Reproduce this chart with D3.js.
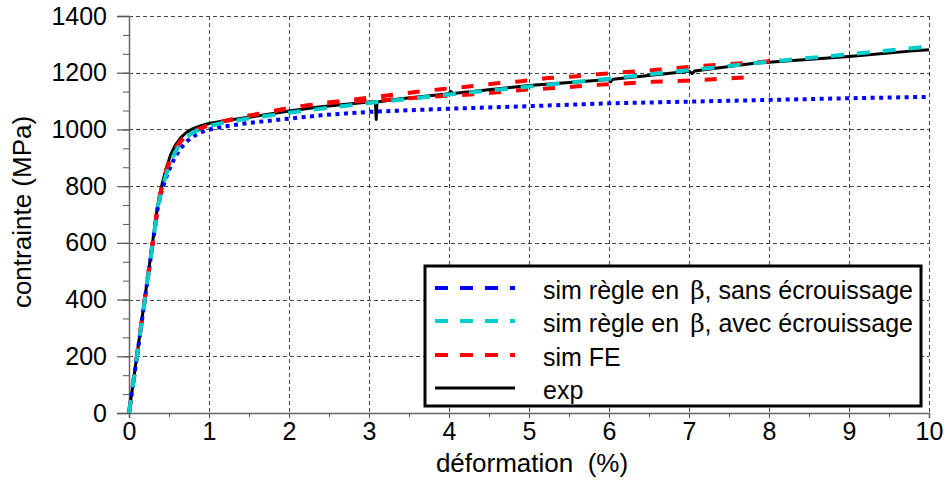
<!DOCTYPE html>
<html><head><meta charset="utf-8">
<script src="https://cdn.jsdelivr.net/npm/d3@7"></script>
<style>body{margin:0;background:#fff}svg{display:block}text{font-family:"Liberation Sans",Arial,sans-serif;fill:#000}</style>
</head><body>
<script>
// ---- data ----
const xTicks = [0,1,2,3,4,5,6,7,8,9,10];
const yTicks = [0,200,400,600,800,1000,1200,1400];
const seriesNames = ["sim règle en β, sans écrouissage","sim règle en β, avec écrouissage","sim FE","exp"];

const expX = [0,0.1,0.2,0.3,0.36,0.42,0.47,0.52,0.58,0.65,0.72,0.8,0.9,1.0,1.2,1.5,2.0,2.4,3.0,3.08,3.09,3.1,3.4,4.0,4.02,4.05,5.0,6.0,6.02,6.05,7.0,7.04,7.07,7.84,9.0,9.8,10];
const expY = [0,205,410,612,735,815,868,910,945,972,990,1003,1013,1021,1031,1043,1065,1080,1097,1098,1035,1097,1108,1126,1134,1127,1155,1176,1168,1177,1205,1197,1206,1234,1257,1277,1281];

const cyanX = [0,0.1,0.2,0.3,0.36,0.42,0.47,0.52,0.58,0.65,0.72,0.8,0.9,1.0,1.2,1.5,2.0,2.4,3.0,3.4,4.0,5.0,6.0,7.0,8.0,9.0,10];
const cyanY = [0,200,405,605,728,800,845,885,922,952,973,989,1002,1012,1025,1039,1059,1073,1093,1105,1123,1151,1179,1209,1239,1265,1292];

const blueX = [0,0.1,0.2,0.3,0.36,0.42,0.47,0.52,0.58,0.65,0.72,0.8,0.9,1.0,1.2,1.5,2.0,2.4,3.0,4.0,5.0,6.0,7.0,8.0,9.0,10];
const blueY = [0,200,405,605,725,795,835,870,905,935,957,975,990,1000,1011,1023,1038,1050,1062,1073,1082,1092,1098,1104,1110,1115];

const feUpX = [0,0.1,0.2,0.3,0.36,0.42,0.47,0.52,0.58,0.65,0.72,0.8,0.9,1.0,1.2,1.5,2.0,2.4,2.8,3.0,3.4,3.9,4.3,4.6,4.9,5.24,5.56,5.86,6.16,6.5,6.8,7.1,7.46,7.8,8.04];
const feUpY = [0,203,408,608,732,810,858,898,933,960,978,993,1005,1015,1030,1048,1075,1092,1105,1112,1126,1142,1153,1163,1170,1181,1187,1195,1201,1208,1216,1223,1230,1236,1241];

const feLowX = [0,0.1,0.2,0.3,0.36,0.42,0.47,0.52,0.58,0.65,0.72,0.8,0.9,1.0,1.2,1.5,2.0,2.4,2.8,3.2,3.7,4.0,4.3,4.6,4.94,5.26,5.58,5.9,6.24,6.54,6.85,7.2,7.5,7.76];
const feLowY = [0,203,408,608,732,810,858,898,933,960,978,993,1005,1015,1030,1048,1075,1092,1098,1104,1114,1119,1124,1131,1140,1145,1151,1158,1163,1168,1171,1175,1180,1184];

// ---- chart ----
const W = 944, H = 480;
const svg = d3.select("body").append("svg").attr("width", W).attr("height", H);
const x = d3.scaleLinear().domain([0,10]).range([129,929]);
const y = d3.scaleLinear().domain([0,1400]).range([413,16]);

// grid
const grid = svg.append("g").attr("stroke","#444").attr("stroke-width",1).attr("stroke-dasharray","4,3").attr("fill","none");
xTicks.forEach(t => grid.append("line").attr("x1",x(t)+0.5).attr("x2",x(t)+0.5).attr("y1",y(1400)).attr("y2",y(0)));
yTicks.forEach(t => grid.append("line").attr("x1",x(0)).attr("x2",x(10)).attr("y1",Math.round(y(t))+0.5).attr("y2",Math.round(y(t))+0.5));

// axes
const yMinor = d3.range(0,1400.1,200/3);
const yAxis = d3.axisLeft(y).tickValues(yTicks).tickSize(12).tickPadding(10).tickFormat(d3.format("d"));
const gy = svg.append("g").attr("transform",`translate(${x(0)},0)`).call(yAxis);
gy.selectAll(".tick text").attr("font-size",25).attr("font-family","Liberation Sans, Arial, sans-serif").attr("fill","#000");
gy.select(".domain").attr("stroke","#666").attr("stroke-width",1.5);
gy.selectAll(".tick line").attr("stroke","#555").attr("stroke-width",1.2);
const gym = svg.append("g").attr("transform",`translate(${x(0)},0)`).call(d3.axisLeft(y).tickValues(yMinor).tickSize(6).tickFormat(""));
gym.select(".domain").remove(); gym.selectAll(".tick line").attr("stroke","#555");

const xAxis = d3.axisBottom(x).tickValues(xTicks).tickSize(5).tickPadding(4).tickFormat(d3.format("d"));
const gx = svg.append("g").attr("transform",`translate(0,${y(0)})`).call(xAxis);
gx.selectAll(".tick text").attr("font-size",25).attr("font-family","Liberation Sans, Arial, sans-serif").attr("fill","#000");
gx.select(".domain").attr("stroke","#666").attr("stroke-width",1.5);
gx.selectAll(".tick line").attr("stroke","#555");
const gxm = svg.append("g").attr("transform",`translate(0,${y(0)})`).call(d3.axisBottom(x).tickValues(d3.range(0.5,10,1)).tickSize(4).tickFormat(""));
gxm.select(".domain").remove(); gxm.selectAll(".tick line").attr("stroke","#555");

// curves
const line = d3.line().x(d=>x(d[0])).y(d=>y(d[1]));
const zip = (a,b) => a.map((v,i)=>[v,b[i]]);
const plot = (X,Y,color,w,dash) => svg.append("path").datum(zip(X,Y)).attr("d",line)
  .attr("fill","none").attr("stroke",color).attr("stroke-width",w)
  .attr("stroke-dasharray",dash||null).attr("stroke-linejoin","round");
plot(expX,expY,"#000",3);
plot(blueX,blueY,"#0000ff",4,"4,4.5");
plot(feUpX,feUpY,"#ff0000",4,"12,15");
plot(feLowX,feLowY,"#ff0000",4,"12,15");
plot(cyanX,cyanY,"#00cccc",4,"13,13");

// axis titles
svg.append("text").attr("x",532).attr("y",472).attr("text-anchor","middle").attr("font-size",26).style("white-space","pre").text("déformation  (%)");
svg.append("text").attr("transform","translate(31,212) rotate(-90)").attr("text-anchor","middle").attr("font-size",26).text("contrainte (MPa)");

// legend
const lg = svg.append("g");
lg.append("rect").attr("x",425).attr("y",266).attr("width",496).attr("height",140).attr("fill","#fff").attr("stroke","#000").attr("stroke-width",3);
const legColors = ["#0000ff","#00cccc","#ff0000","#000"];
const legY = [288,321,355,388];
seriesNames.forEach((n,i) => {
  lg.append("line").attr("x1",435).attr("x2",515).attr("y1",legY[i]).attr("y2",legY[i])
    .attr("stroke",legColors[i]).attr("stroke-width",i===3?3:4).attr("stroke-dasharray",i===3?null:"13,12");
  const t = lg.append("text").attr("x",543).attr("y",legY[i]+11).attr("font-size",25);
  const parts = n.split("β");
  if (parts.length>1){
    t.append("tspan").text(parts[0]);
    t.append("tspan").attr("dx",4).attr("font-family","DejaVu Serif, serif").text("β");
    t.append("tspan").text(parts[1]);
  } else t.text(n);
});
</script>
</body></html>
